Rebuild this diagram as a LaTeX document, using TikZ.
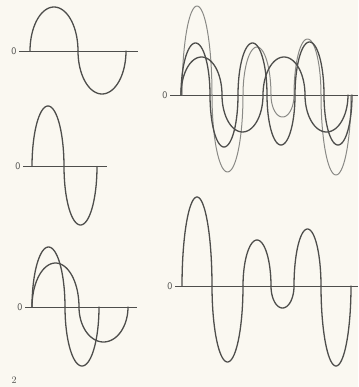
\documentclass[tikz,border=0pt]{standalone}
\usepackage{tikz}
\usetikzlibrary{positioning}

\definecolor{paper}{RGB}{250,248,241}
\definecolor{ink}{RGB}{78,78,76}
\definecolor{pale}{RGB}{138,138,134}

\begin{document}
\begin{tikzpicture}[x=1pt, y=-1pt, font=\sffamily,
    wave/.style={ink, line width=1.3pt, line cap=round},
    sumwave/.style={pale, line width=1pt, line cap=round},
    axisline/.style={ink, line width=0.8pt},
    zero/.style={ink, anchor=east, inner sep=2.5pt, font=\sffamily}]
  \fill[paper] (0,0) rectangle (358,387);
  \useasboundingbox (0,0) rectangle (358,387);

  % left column: single waves and the pair
  \node[zero] (zeroA) at (19,51) {0};
  \draw[axisline] (zeroA.east) -- (138,51);
  \foreach \a/\b/\h in {30/78/44, 78/126/-43}
    \draw[wave] plot[domain=0:180, samples=40, variable=\t]
      ({\a+(\b-\a)*(1-cos(\t))/2}, {51-(\h)*sin(\t)});

  \node[zero] (zeroB) at (23,166.5) {0};
  \draw[axisline] (zeroB.east) -- (107,166.5);
  \foreach \a/\b/\h in {32/64/60.5, 64/97/-58.5}
    \draw[wave] plot[domain=0:180, samples=40, variable=\t]
      ({\a+(\b-\a)*(1-cos(\t))/2}, {166.5-(\h)*sin(\t)});

  \node[zero] (zeroC) at (25,307) {0};
  \draw[axisline] (zeroC.east) -- (137,307);
  \foreach \a/\b/\h in {32/65/60, 65/99/-59, 32/79/44, 79/128/-35}
    \draw[wave] plot[domain=0:180, samples=40, variable=\t]
      ({\a+(\b-\a)*(1-cos(\t))/2}, {307-(\h)*sin(\t)});

  \node[font=\rmfamily, ink] (figno) at (14,380) {2};

  % right column: both waves with their sum, then the sum alone
  \node[zero] (zeroD) at (170,95) {0};
  \draw[axisline] (zeroD.east) -- (358,95);
  \foreach \a/\b/\h in {182/212/89, 212/243/-77, 243/271/48, 271/294/-22, 294/321/56, 321/351/-80}
    \draw[sumwave] plot[domain=0:180, samples=40, variable=\t]
      ({\a+(\b-\a)*(1-cos(\t))/2}, {95-(\h)*sin(\t)});
  \foreach \a/\b/\h in {181/222/38, 222/263/-37, 263/305/38, 305/348/-37,
                        181/210/52, 210/238/-52, 238/267/52, 267/295/-50, 295/324/53, 324/352/-50}
    \draw[wave] plot[domain=0:180, samples=40, variable=\t]
      ({\a+(\b-\a)*(1-cos(\t))/2}, {95-(\h)*sin(\t)});

  \node[zero] (zeroE) at (175,286) {0};
  \draw[axisline] (zeroE.east) -- (358,286);
  \foreach \a/\b/\h in {182/212/89, 212/243/-76, 243/271/46, 271/294/-22, 294/321/57, 321/351/-80}
    \draw[wave] plot[domain=0:180, samples=40, variable=\t]
      ({\a+(\b-\a)*(1-cos(\t))/2}, {286-(\h)*sin(\t)});
\end{tikzpicture}
\end{document}
